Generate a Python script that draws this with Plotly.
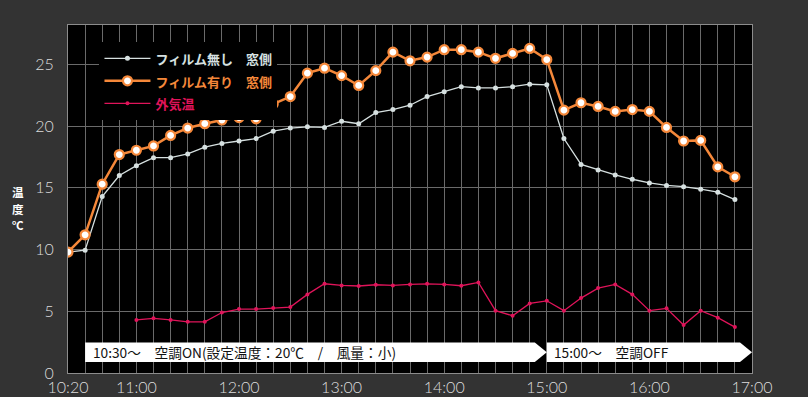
import plotly.graph_objects as go

# ---- data ----
times = ["10:20", "10:30", "10:40", "10:50", "11:00", "11:10", "11:20", "11:30", "11:40", "11:50",
         "12:00", "12:10", "12:20", "12:30", "12:40", "12:50", "13:00", "13:10", "13:20", "13:30",
         "13:40", "13:50", "14:00", "14:10", "14:20", "14:30", "14:40", "14:50", "15:00", "15:10",
         "15:20", "15:30", "15:40", "15:50", "16:00", "16:10", "16:20", "16:30", "16:40", "16:50"]

film_none = [9.8, 9.95, 14.3, 16.0, 16.8, 17.45, 17.45, 17.75, 18.3, 18.6,
             18.8, 19.0, 19.6, 19.85, 19.95, 19.9, 20.4, 20.2, 21.1, 21.35,
             21.7, 22.4, 22.8, 23.2, 23.1, 23.1, 23.2, 23.4, 23.35, 19.0,
             16.9, 16.45, 16.05, 15.7, 15.4, 15.2, 15.1, 14.9, 14.65, 14.05]

film_with = [9.8, 11.2, 15.3, 17.7, 18.05, 18.4, 19.25, 19.85, 20.2, 20.5,
             20.7, 20.6, 21.8, 22.4, 24.3, 24.7, 24.1, 23.3, 24.5, 26.0,
             25.3, 25.6, 26.2, 26.2, 26.0, 25.5, 25.9, 26.3, 25.4, 21.3,
             21.9, 21.6, 21.2, 21.35, 21.2, 19.9, 18.8, 18.85, 16.7, 15.9]

outside_times = times[4:]
outside = [4.3, 4.43, 4.3, 4.15, 4.15, 4.9, 5.18, 5.18, 5.26, 5.34,
           6.37, 7.23, 7.1, 7.05, 7.15, 7.1, 7.18, 7.23, 7.18, 7.07,
           7.34, 5.05, 4.64, 5.64, 5.85, 5.05, 6.07, 6.88, 7.18, 6.37,
           5.05, 5.24, 3.89, 5.05, 4.48, 3.72]

tick_labels = ["10:20", "11:00", "12:00", "13:00", "14:00", "15:00", "16:00", "17:00"]

series_names = ["フィルム無し　窓側", "フィルム有り　窓側", "外気温"]
banner_texts = ["10:30～　空調ON(設定温度：20℃　/　風量：小)", "15:00～　空調OFF"]
banner_spans = [("10:30", "15:00"), ("15:00", "17:00")]
y_title_chars = ["温", "度", "℃"]


def to_min(t):
    h, m = t.split(":")
    return (int(h) - 10) * 60 + int(m)


x_main = [to_min(t) for t in times]
x_out = [to_min(t) for t in outside_times]
tick_vals = [to_min(t) for t in tick_labels]

C_WHITE = "#d6e0e0"
C_ORANGE = "#f5883a"
C_PINK = "#e0145a"
BG = "#333333"


def legend_name(txt, color):
    return f"<b><span style='color:{color};font-size:13px'>{txt}</span></b>"


fig = go.Figure()

fig.add_trace(go.Scatter(
    x=x_main, y=film_none, mode="lines+markers",
    name=legend_name(series_names[0], C_WHITE),
    line=dict(color=C_WHITE, width=1.3),
    marker=dict(color=C_WHITE, size=5),
))
fig.add_trace(go.Scatter(
    x=x_main, y=film_with, mode="lines+markers",
    name=legend_name(series_names[1], C_ORANGE),
    line=dict(color=C_ORANGE, width=2.5),
    marker=dict(color="white", size=9, line=dict(color=C_ORANGE, width=2.2)),
))
fig.add_trace(go.Scatter(
    x=x_out, y=outside, mode="lines+markers",
    name=legend_name(series_names[2], C_PINK),
    line=dict(color=C_PINK, width=1.3),
    marker=dict(color=C_PINK, size=4),
))

# banners (arrow shaped)
y_top, y_bot = 2.48, 0.9
y_mid = (y_top + y_bot) / 2
tip = 7
for (a, b), txt in zip(banner_spans, banner_texts):
    x0, x1 = to_min(a), to_min(b)
    path = (f"M {x0},{y_top} L {x1 - tip},{y_top} L {x1},{y_mid} "
            f"L {x1 - tip},{y_bot} L {x0},{y_bot} Z")
    fig.add_shape(type="path", path=path, xref="x", yref="y",
                  fillcolor="white", line=dict(width=0), layer="above")
    fig.add_annotation(x=x0 + 3.2, y=y_mid, xref="x", yref="y", text=txt,
                       showarrow=False, xanchor="left", yanchor="middle",
                       font=dict(color="#111111", size=13.7, family="Noto Sans CJK JP"))

# y-axis title (stacked characters)
for i, ch in enumerate(y_title_chars):
    fig.add_annotation(x=-0.073, y=(373 - (192 + 16.5 * i)) / 348, xref="paper", yref="paper",
                       text=f"<b>{ch}</b>", showarrow=False,
                       font=dict(color="white", size=11.5, family="Noto Sans CJK JP"),
                       xanchor="center", yanchor="middle")

grid = "#6a6a6a"
tickfont = dict(color="#dddddd", size=16, family="Lato", weight=300)
fig.update_xaxes(
    range=[20, 420], tickvals=tick_vals, ticktext=tick_labels,
    showgrid=True, gridcolor=grid, gridwidth=1,
    minor=dict(dtick=10, tick0=0, showgrid=True, gridcolor=grid, gridwidth=1),
    showline=True, mirror=True, linecolor="#8c8c8c", linewidth=1,
    zeroline=False, ticks="",
    tickfont=tickfont, automargin=False,
)
fig.update_yaxes(
    range=[0, 28.2], dtick=5, tick0=0,
    showgrid=True, gridcolor=grid, gridwidth=1,
    showline=True, mirror=True, linecolor="#8c8c8c", linewidth=1,
    zeroline=False, ticks="outside", ticklen=10, tickcolor="rgba(0,0,0,0)",
    tickfont=tickfont, automargin=False,
)

fig.update_layout(
    width=808, height=397,
    margin=dict(l=68, r=56, t=25, b=24, autoexpand=False),
    paper_bgcolor=BG, plot_bgcolor="black",
    showlegend=True,
    legend=dict(x=0.046, y=0.951, xanchor="left", yanchor="top",
                bgcolor="black", borderwidth=0,
                font=dict(size=15, family="Noto Sans CJK JP", color="white"),
                tracegroupgap=0, itemwidth=46),
    font=dict(family="Noto Sans CJK JP"),
)

fig.write_html(
    "out.html",
    config={"displayModeBar": False},
    post_script=f"document.body.style.margin='0';document.body.style.background='{BG}';",
)
